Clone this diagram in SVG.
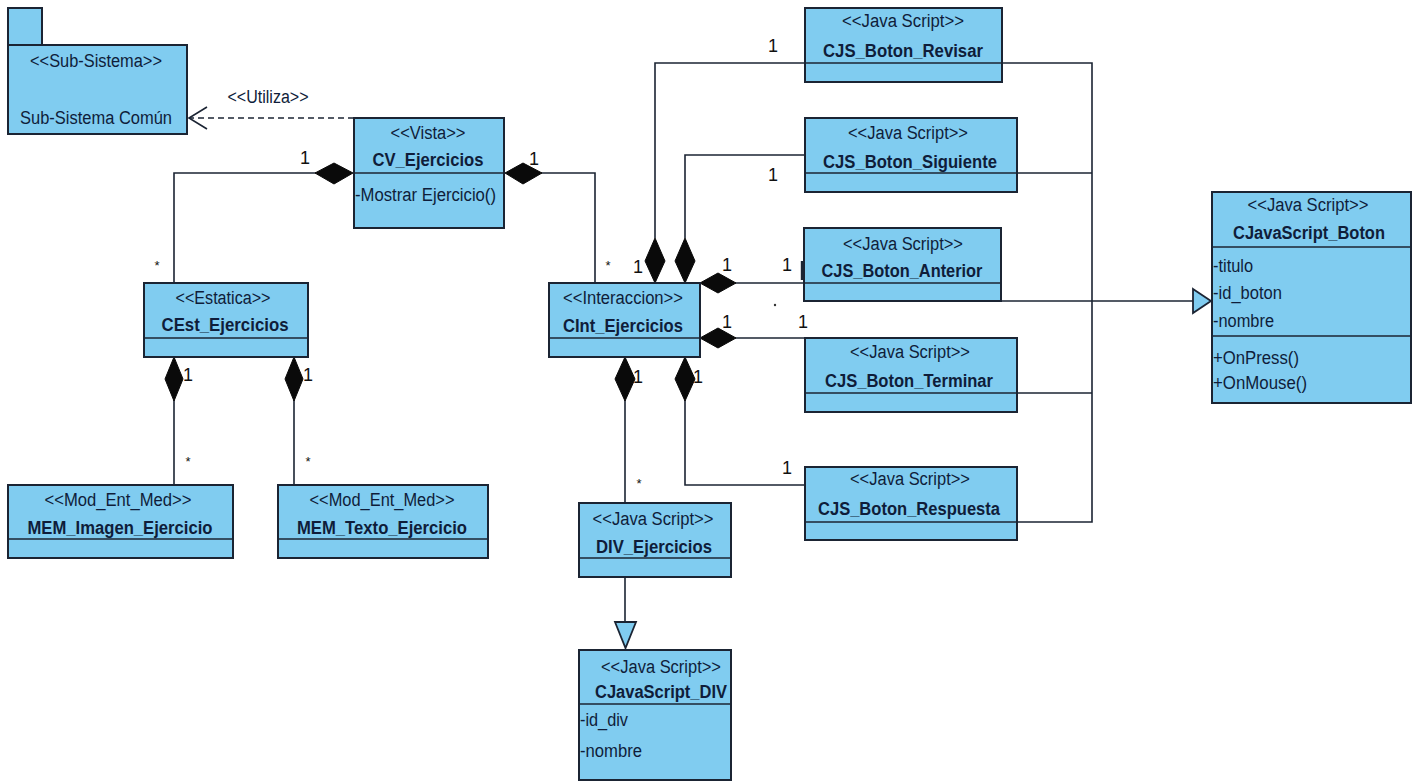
<svg xmlns="http://www.w3.org/2000/svg" width="1413" height="783" viewBox="0 0 1413 783">
<style>
.box{fill:#80ccf0;stroke:#1b2433;stroke-width:2}
.sep{stroke:#1b2433;stroke-width:1.6}
.t{font-family:"Liberation Sans",Arial,sans-serif;font-size:18px;fill:#0f1d3a}
.c{text-anchor:middle}
.b{font-weight:bold}
.m{font-family:"Liberation Sans",Arial,sans-serif;font-size:18px;fill:#111;text-anchor:middle}
.s{font-family:"Liberation Sans",Arial,sans-serif;font-size:13px;fill:#111;text-anchor:middle}
.ln{fill:none;stroke:#1b2433;stroke-width:1.6}
.dash{fill:none;stroke:#1b2433;stroke-width:1.6;stroke-dasharray:6 4}
.dia{fill:#0a0a0a;stroke:#0a0a0a;stroke-width:1}
.tri{fill:#80ccf0;stroke:#1b2433;stroke-width:1.8}
</style>
<rect width="1413" height="783" fill="#ffffff"/>

<g id="connectors">
  <line class="dash" x1="354" y1="118" x2="190" y2="118"/>
  <polyline class="ln" points="207,107 189,118 207,129"/>
  <text class="t c" x="268" y="103" textLength="81" lengthAdjust="spacingAndGlyphs">&lt;&lt;Utiliza&gt;&gt;</text>

  <polyline class="ln" points="316,173 174,173 174,283"/>
  <polygon class="dia" points="353,173 334,163 315,173 334,184"/>
  <text class="m" x="305" y="164">1</text>
  <text class="s" x="157" y="270">*</text>

  <polyline class="ln" points="541,173 595,173 595,283"/>
  <polygon class="dia" points="505,173 523,163 542,173 523,184"/>
  <text class="m" x="534" y="165">1</text>
  <text class="s" x="608" y="270">*</text>

  <polyline class="ln" points="655,238 655,63 805,63"/>
  <polygon class="dia" points="655,283 665,261 655,238 645,261"/>
  <text class="m" x="638" y="273">1</text>
  <text class="m" x="773" y="52">1</text>

  <polyline class="ln" points="685,238 685,155 805,155"/>
  <polygon class="dia" points="685,283 695,261 685,238 675,261"/>
  <text class="m" x="773" y="181">1</text>

  <line class="ln" x1="735" y1="283" x2="804" y2="283"/>
  <polygon class="dia" points="700,283 718,273 736,283 718,293"/>
  <text class="m" x="727" y="271">1</text>
  <text class="m" x="787" y="271">1</text>
  <line class="ln" x1="802" y1="261" x2="802" y2="280" style="stroke-width:2.4"/>
  <circle cx="775" cy="305" r="1.2" fill="#333"/>

  <line class="ln" x1="735" y1="338" x2="805" y2="338"/>
  <polygon class="dia" points="700,338 718,328 736,338 718,348"/>
  <text class="m" x="727" y="328">1</text>
  <text class="m" x="803" y="328">1</text>

  <line class="ln" x1="625" y1="400" x2="625" y2="503"/>
  <polygon class="dia" points="625,357 635,379 625,401 615,379"/>
  <text class="m" x="638" y="383">1</text>
  <text class="s" x="639" y="488">*</text>

  <polyline class="ln" points="685,400 685,485 805,485"/>
  <polygon class="dia" points="685,357 695,379 685,401 675,379"/>
  <text class="m" x="698" y="383">1</text>
  <text class="m" x="787" y="474">1</text>

  <line class="ln" x1="174" y1="400" x2="174" y2="485"/>
  <polygon class="dia" points="174,357 183,379 174,401 165,379"/>
  <text class="m" x="188" y="381">1</text>
  <text class="s" x="188" y="466">*</text>
  <line class="ln" x1="294" y1="400" x2="294" y2="485"/>
  <polygon class="dia" points="294,357 303,379 294,401 285,379"/>
  <text class="m" x="308" y="381">1</text>
  <text class="s" x="308" y="466">*</text>

  <polyline class="ln" points="1002,63 1092,63 1092,522 1017,522"/>
  <line class="ln" x1="1017" y1="173" x2="1092" y2="173"/>
  <line class="ln" x1="1017" y1="393" x2="1092" y2="393"/>
  <line class="ln" x1="1001" y1="301" x2="1193" y2="301"/>
  <polygon class="tri" points="1193,289 1211,301 1193,313"/>

  <line class="ln" x1="625" y1="577" x2="625" y2="622"/>
  <polygon class="tri" points="615,622 636,622 625.5,648"/>
</g>

<g id="SubSistemaComun">
  <rect class="box" x="8" y="8" width="34" height="37"/>
  <rect class="box" x="8" y="45" width="179" height="89"/>
  <text class="t c" x="96" y="67" textLength="132" lengthAdjust="spacingAndGlyphs">&lt;&lt;Sub-Sistema&gt;&gt;</text>
  <text class="t c" x="96" y="124" textLength="152" lengthAdjust="spacingAndGlyphs">Sub-Sistema Común</text>
</g>

<g id="CV_Ejercicios">
  <rect class="box" x="354" y="118" width="150" height="110"/>
  <line class="sep" x1="354" y1="173" x2="504" y2="173"/>
  <text class="t c" x="428" y="139" textLength="75" lengthAdjust="spacingAndGlyphs">&lt;&lt;Vista&gt;&gt;</text>
  <text class="t c b" x="428" y="166" textLength="111" lengthAdjust="spacingAndGlyphs">CV_Ejercicios</text>
  <text class="t" x="355" y="201" textLength="141" lengthAdjust="spacingAndGlyphs">-Mostrar Ejercicio()</text>
</g>

<g id="CEst_Ejercicios">
  <rect class="box" x="144" y="283" width="164" height="74"/>
  <line class="sep" x1="144" y1="338" x2="308" y2="338"/>
  <text class="t c" x="223" y="304" textLength="95" lengthAdjust="spacingAndGlyphs">&lt;&lt;Estatica&gt;&gt;</text>
  <text class="t c b" x="225" y="331" textLength="127" lengthAdjust="spacingAndGlyphs">CEst_Ejercicios</text>
</g>

<g id="CInt_Ejercicios">
  <rect class="box" x="549" y="283" width="151" height="74"/>
  <line class="sep" x1="549" y1="338" x2="700" y2="338"/>
  <text class="t c" x="623" y="304" textLength="120" lengthAdjust="spacingAndGlyphs">&lt;&lt;Interaccion&gt;&gt;</text>
  <text class="t c b" x="623" y="332" textLength="120" lengthAdjust="spacingAndGlyphs">CInt_Ejercicios</text>
</g>

<g id="CJS_Boton_Revisar">
  <rect class="box" x="805" y="8" width="197" height="74"/>
  <line class="sep" x1="805" y1="63" x2="1002" y2="63"/>
  <text class="t c" x="903" y="27" textLength="122" lengthAdjust="spacingAndGlyphs">&lt;&lt;Java Script&gt;&gt;</text>
  <text class="t c b" x="903" y="57" textLength="160" lengthAdjust="spacingAndGlyphs">CJS_Boton_Revisar</text>
</g>

<g id="CJS_Boton_Siguiente">
  <rect class="box" x="805" y="118" width="212" height="74"/>
  <line class="sep" x1="805" y1="173" x2="1017" y2="173"/>
  <text class="t c" x="908" y="139" textLength="120" lengthAdjust="spacingAndGlyphs">&lt;&lt;Java Script&gt;&gt;</text>
  <text class="t c b" x="910" y="168" textLength="174" lengthAdjust="spacingAndGlyphs">CJS_Boton_Siguiente</text>
</g>

<g id="CJS_Boton_Anterior">
  <rect class="box" x="804" y="228" width="197" height="73"/>
  <line class="sep" x1="804" y1="283" x2="1001" y2="283"/>
  <text class="t c" x="903" y="250" textLength="120" lengthAdjust="spacingAndGlyphs">&lt;&lt;Java Script&gt;&gt;</text>
  <text class="t c b" x="902" y="277" textLength="161" lengthAdjust="spacingAndGlyphs">CJS_Boton_Anterior</text>
</g>

<g id="CJS_Boton_Terminar">
  <rect class="box" x="805" y="338" width="212" height="74"/>
  <line class="sep" x1="805" y1="393" x2="1017" y2="393"/>
  <text class="t c" x="910" y="358" textLength="120" lengthAdjust="spacingAndGlyphs">&lt;&lt;Java Script&gt;&gt;</text>
  <text class="t c b" x="909" y="387" textLength="168" lengthAdjust="spacingAndGlyphs">CJS_Boton_Terminar</text>
</g>

<g id="CJS_Boton_Respuesta">
  <rect class="box" x="805" y="467" width="212" height="73"/>
  <line class="sep" x1="805" y1="522" x2="1017" y2="522"/>
  <text class="t c" x="910" y="485" textLength="120" lengthAdjust="spacingAndGlyphs">&lt;&lt;Java Script&gt;&gt;</text>
  <text class="t c b" x="909" y="515" textLength="182" lengthAdjust="spacingAndGlyphs">CJS_Boton_Respuesta</text>
</g>

<g id="CJavaScript_Boton">
  <rect class="box" x="1212" y="192" width="199" height="211"/>
  <line class="sep" x1="1212" y1="247" x2="1411" y2="247"/>
  <line class="sep" x1="1212" y1="336" x2="1411" y2="336"/>
  <text class="t c" x="1308" y="211" textLength="121" lengthAdjust="spacingAndGlyphs">&lt;&lt;Java Script&gt;&gt;</text>
  <text class="t c b" x="1309" y="239" textLength="152" lengthAdjust="spacingAndGlyphs">CJavaScript_Boton</text>
  <text class="t" x="1213" y="272" textLength="40" lengthAdjust="spacingAndGlyphs">-titulo</text>
  <text class="t" x="1213" y="299" textLength="69" lengthAdjust="spacingAndGlyphs">-id_boton</text>
  <text class="t" x="1213" y="327" textLength="61" lengthAdjust="spacingAndGlyphs">-nombre</text>
  <text class="t" x="1213" y="364" textLength="86" lengthAdjust="spacingAndGlyphs">+OnPress()</text>
  <text class="t" x="1213" y="389" textLength="94" lengthAdjust="spacingAndGlyphs">+OnMouse()</text>
</g>

<g id="MEM_Imagen_Ejercicio">
  <rect class="box" x="8" y="485" width="225" height="73"/>
  <line class="sep" x1="8" y1="539" x2="233" y2="539"/>
  <text class="t c" x="118" y="506" textLength="147" lengthAdjust="spacingAndGlyphs">&lt;&lt;Mod_Ent_Med&gt;&gt;</text>
  <text class="t c b" x="120" y="534" textLength="185" lengthAdjust="spacingAndGlyphs">MEM_Imagen_Ejercicio</text>
</g>

<g id="MEM_Texto_Ejercicio">
  <rect class="box" x="278" y="485" width="210" height="73"/>
  <line class="sep" x1="278" y1="539" x2="488" y2="539"/>
  <text class="t c" x="382" y="506" textLength="145" lengthAdjust="spacingAndGlyphs">&lt;&lt;Mod_Ent_Med&gt;&gt;</text>
  <text class="t c b" x="382" y="534" textLength="170" lengthAdjust="spacingAndGlyphs">MEM_Texto_Ejercicio</text>
</g>

<g id="DIV_Ejercicios">
  <rect class="box" x="579" y="503" width="152" height="74"/>
  <line class="sep" x1="579" y1="558" x2="731" y2="558"/>
  <text class="t c" x="653" y="525" textLength="121" lengthAdjust="spacingAndGlyphs">&lt;&lt;Java Script&gt;&gt;</text>
  <text class="t c b" x="654" y="553" textLength="116" lengthAdjust="spacingAndGlyphs">DIV_Ejercicios</text>
</g>

<g id="CJavaScript_DIV">
  <rect class="box" x="579" y="650" width="152" height="130"/>
  <line class="sep" x1="579" y1="704" x2="731" y2="704"/>
  <text class="t c" x="661" y="673" textLength="120" lengthAdjust="spacingAndGlyphs">&lt;&lt;Java Script&gt;&gt;</text>
  <text class="t c b" x="661" y="698" textLength="132" lengthAdjust="spacingAndGlyphs">CJavaScript_DIV</text>
  <text class="t" x="580" y="726" textLength="48" lengthAdjust="spacingAndGlyphs">-id_div</text>
  <text class="t" x="580" y="757" textLength="62" lengthAdjust="spacingAndGlyphs">-nombre</text>
</g>
</svg>
